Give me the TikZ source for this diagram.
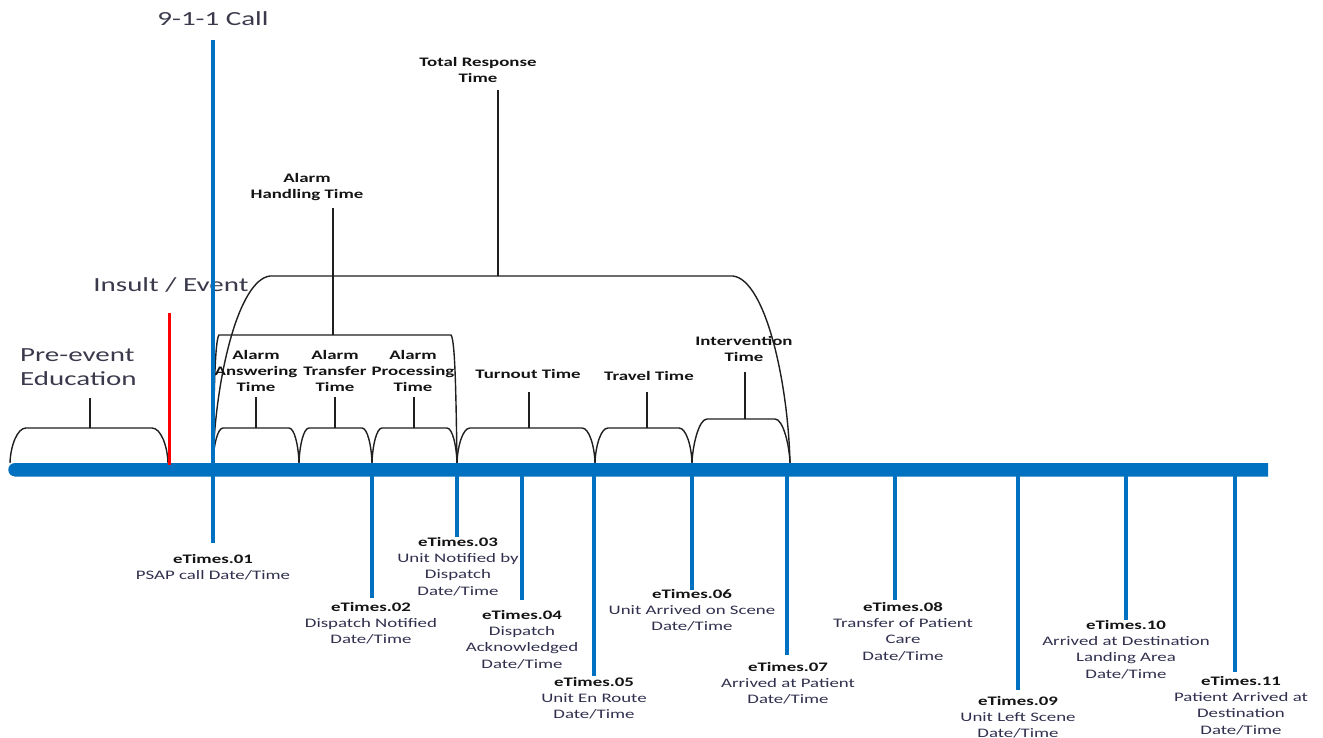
\documentclass[tikz,border=0pt]{standalone}
\usepackage{fontspec}
\setmainfont{Carlito}[FakeStretch=1.45]
\definecolor{tblue}{HTML}{0070C0}
\definecolor{txt}{HTML}{30304E}
\definecolor{bigtxt}{HTML}{3A3A4C}
\tikzset{
  br/.style={line width=1.4pt, draw=black!88},
  tick/.style={line width=1.4pt, draw=black!88},
  drop/.style={line width=3.5pt, draw=tblue},
  lab/.style={font=\fontsize{13}{16.3}\selectfont, align=center, inner sep=0pt, anchor=north, text=txt},
  blab/.style={font=\bfseries\fontsize{13}{16.3}\selectfont, align=center, inner sep=0pt, anchor=north, text=black!92},
  big/.style={font=\fontsize{20}{24.5}\selectfont, inner sep=0pt, text=bigtxt}
}
\newcommand{\et}[1]{{\bfseries\color{black!92}#1}}
% bump: x1, x2, top, corner width
\newcommand{\bump}[4]{%
  \draw[br] (#1,463) .. controls (#1+0.5,446) and (#1+0.45*#4,#3) .. (#1+#4,#3)
     -- (#2-#4,#3) .. controls (#2-0.45*#4,#3) and (#2-0.5,446) .. (#2,463);}
\begin{document}
\begin{tikzpicture}[x=1pt,y=-1pt]
\useasboundingbox (0,0) rectangle (1323,738);

% small brackets
\bump{10}{168}{428}{16}
\bump{213}{299}{428}{10}
\bump{299}{372}{428}{10}
\bump{372}{457}{428}{10}
\bump{457}{595}{428}{13}
\bump{595}{692}{428}{13}
\bump{692}{790}{419}{15}

% alarm handling bracket
\draw[br] (213,463) .. controls (214,390) and (215,340) .. (219,335)
   -- (451,335) .. controls (455,340) and (456,390) .. (457,463);
% total response bracket
\draw[br] (213,463) .. controls (215,380) and (238,280) .. (270,276)
   -- (733,276) .. controls (765,280) and (788,380) .. (790,463);

% labels of brackets
\node[big, anchor=north west, align=left] (pre) at (20,348) {Pre-event\\Education};
\node[blab] (aa) at (256,350) {Alarm\\Answering\\Time};
\node[blab] (at) at (335,350) {Alarm\\Transfer\\Time};
\node[blab] (ap) at (413,350) {Alarm\\Processing\\Time};
\node[blab] (to) at (528,369) {Turnout Time};
\node[blab] (tt) at (649,371) {Travel Time};
\node[blab] (it) at (744,336) {Intervention\\Time};
\node[blab] (ah) at (307,173) {Alarm\\Handling Time};
\node[blab] (tr) at (478,57) {Total Response\\Time};

% ticks
\coordinate (kpre) at (90,428);   \coordinate (kpreT) at (90,398);
\coordinate (kaa) at (256,428);   \coordinate (kaaT) at (256,397);
\coordinate (kat) at (335,428);   \coordinate (katT) at (335,397);
\coordinate (kap) at (414,428);   \coordinate (kapT) at (414,397);
\coordinate (kto) at (529,428);   \coordinate (ktoT) at (529,392);
\coordinate (ktt) at (647,428);   \coordinate (kttT) at (647,392);
\coordinate (kit) at (745,419);   \coordinate (kitT) at (745,372);
\coordinate (kah) at (333,335);   \coordinate (kahT) at (333,208);
\coordinate (ktr) at (498,276);   \coordinate (ktrT) at (498,90);
\foreach \k in {pre,aa,at,ap,to,tt,it,ah,tr} \draw[tick] (k\k) -- (k\k T);

% timeline (rounded left end, square right end)
\fill[tblue] (1268,463) -- (15,463) arc[start angle=270, end angle=90, radius=6.75]
   -- (1268,476.5) -- cycle;

% 9-1-1 call line and red insult line
\node[big, anchor=north] (call) at (213,11) {9-1-1 Call};
\node[big, anchor=north] (ins) at (171,277) {Insult / Event};
\coordinate (c1) at (213,40); \coordinate (c2) at (213,543);
\draw[line width=4.5pt, draw=tblue] (c1) -- (c2);
\coordinate (r1) at (169,313); \coordinate (r2) at (169,465);
\draw[line width=3pt, draw=red] (r1) -- (r2);

% eTimes labels
\node[lab] (l01) at (213,554) {\et{eTimes.01}\\PSAP call Date/Time};
\node[lab] (l02) at (371,602) {\et{eTimes.02}\\Dispatch Notified\\Date/Time};
\node[lab] (l03) at (458,537) {\et{eTimes.03}\\Unit Notified by\\Dispatch\\Date/Time};
\node[lab] (l04) at (522,610) {\et{eTimes.04}\\Dispatch\\Acknowledged\\Date/Time};
\node[lab] (l05) at (594,677) {\et{eTimes.05}\\Unit En Route\\Date/Time};
\node[lab] (l06) at (692,589) {\et{eTimes.06}\\Unit Arrived on Scene\\Date/Time};
\node[lab] (l07) at (788,662) {\et{eTimes.07}\\Arrived at Patient\\Date/Time};
\node[lab] (l08) at (903,602) {\et{eTimes.08}\\Transfer of Patient\\Care\\Date/Time};
\node[lab] (l09) at (1018,696) {\et{eTimes.09}\\Unit Left Scene\\Date/Time};
\node[lab] (l10) at (1126,620) {\et{eTimes.10}\\Arrived at Destination\\Landing Area\\Date/Time};
\node[lab] (l11) at (1241,676) {\et{eTimes.11}\\Patient Arrived at\\Destination\\Date/Time};

% drop lines
\foreach \n/\x/\e in {02/372/598, 03/457/537, 04/522/600, 05/594/676, 06/692/590, 07/787/655, 08/895/600, 09/1018/690, 10/1126/620, 11/1235/672}{
  \coordinate (t\n) at (\x,476);
  \coordinate (e\n) at (\x,\e);
  \draw[drop] (t\n) -- (e\n);
}
\end{tikzpicture}
\end{document}
